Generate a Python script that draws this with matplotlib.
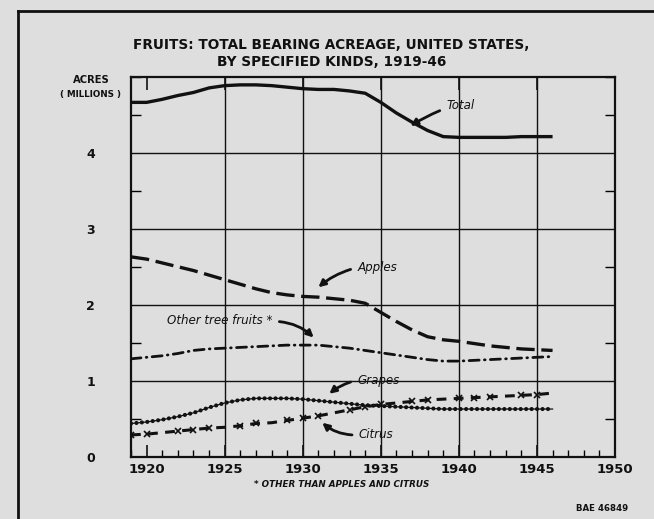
import matplotlib.pyplot as plt
from matplotlib.lines import Line2D
from matplotlib.ticker import MultipleLocator

years = list(range(1919, 1947))

total = [4.66, 4.66, 4.70, 4.75, 4.79, 4.85, 4.88, 4.89, 4.89, 4.88, 4.86, 4.84, 4.83, 4.83,
         4.81, 4.78, 4.66, 4.52, 4.40, 4.29, 4.21, 4.20, 4.20, 4.20, 4.20, 4.21, 4.21, 4.21]
apples = [2.63, 2.60, 2.55, 2.50, 2.45, 2.39, 2.33, 2.27, 2.21, 2.16, 2.13, 2.11, 2.10, 2.08,
          2.06, 2.02, 1.90, 1.78, 1.67, 1.58, 1.54, 1.52, 1.49, 1.46, 1.44, 1.42, 1.41, 1.40]
other_tree = [1.29, 1.31, 1.33, 1.36, 1.40, 1.42, 1.43, 1.44, 1.45, 1.46, 1.47, 1.47, 1.47, 1.45,
              1.43, 1.40, 1.37, 1.34, 1.31, 1.28, 1.26, 1.26, 1.27, 1.28, 1.29, 1.30, 1.31, 1.32]
grapes = [0.44, 0.46, 0.49, 0.53, 0.58, 0.65, 0.71, 0.75, 0.77, 0.77, 0.77, 0.76, 0.74, 0.72,
          0.70, 0.68, 0.67, 0.66, 0.65, 0.64, 0.63, 0.63, 0.63, 0.63, 0.63, 0.63, 0.63, 0.63]
citrus = [0.29, 0.30, 0.32, 0.34, 0.36, 0.38, 0.39, 0.41, 0.44, 0.45, 0.48, 0.51, 0.54, 0.58,
          0.62, 0.66, 0.69, 0.71, 0.73, 0.75, 0.76, 0.77, 0.78, 0.79, 0.80, 0.81, 0.82, 0.84]

x_labels = ['1920', '1925', '1930', '1935', '1940', '1945', '1950']
y_labels = ['0', '1', '2', '3', '4']

plt.rcParams['font.family'] = ['DejaVu Sans']
bg = '#dedede'
ink = '#111111'

fig = plt.figure(figsize=(6.54, 5.19), dpi=100, facecolor=bg)
ax = fig.add_axes([0.2003, 0.1195, 0.7401, 0.7331])
ax.set_facecolor(bg)

# gridlines
for yr in range(1925, 1950, 5):
    ax.axvline(yr, color=ink, lw=1.0, zorder=1)
for v in range(1, 5):
    ax.axhline(v, color=ink, lw=1.0, zorder=1)

# series
ax.plot(years, total, color=ink, lw=2.4, solid_capstyle='butt', zorder=3)
ax.plot(years, apples, color=ink, lw=2.4, dashes=(5.5, 2.0), zorder=3)
ax.plot(years, other_tree, color=ink, lw=2.0, dashes=(3.6, 1.9, 0.25, 1.9),
        dash_capstyle='round', zorder=3)
ax.plot(years, grapes, color=ink, lw=0.9, zorder=3)
ax.plot(years, grapes, color=ink, lw=3.0, dashes=(0.01, 1.3), dash_capstyle='round', zorder=3)
ax.plot(years, citrus, color=ink, lw=2.2, dashes=(3.2, 2.4), zorder=3)
ax.plot(years, citrus, color=ink, lw=0, marker='x', ms=4.5, mew=1.2, markevery=0.035, zorder=4)

ax.set_xlim(1919, 1950)
ax.set_ylim(0, 5)
ax.set_xticks(range(1920, 1951, 5))
ax.set_xticklabels(x_labels, fontsize=9.5, fontweight='bold')
ax.set_yticks(range(0, 5))
ax.set_yticklabels(y_labels, fontsize=9, fontweight='bold')
ax.xaxis.set_minor_locator(MultipleLocator(1))
ax.yaxis.set_minor_locator(MultipleLocator(0.5))
ax.tick_params(axis='x', which='major', direction='in', length=9, width=1.2, pad=4,
               top=True, colors=ink)
ax.tick_params(axis='x', which='minor', direction='in', length=5, width=1.0, top=False)
ax.tick_params(axis='y', which='major', direction='in', length=0, pad=26, colors=ink)
ax.tick_params(axis='y', which='minor', direction='in', length=7, width=1.0, right=True)
for s in ax.spines.values():
    s.set_linewidth(1.6)
    s.set_color(ink)

# labels on the lines
ann = dict(fontsize=8.6, style='italic', color=ink)
arrow = dict(arrowstyle='-|>', lw=2.0, color=ink, mutation_scale=10, shrinkA=3, shrinkB=0)
ax.annotate('Total', xy=(1936.9, 4.35), xytext=(1939.2, 4.62), va='center',
            arrowprops=dict(arrow, connectionstyle='arc3,rad=0.05', relpos=(0.0, 0.3)), **ann)
ax.annotate('Apples', xy=(1931.0, 2.23), xytext=(1933.5, 2.49), va='center',
            arrowprops=dict(arrow, connectionstyle='arc3,rad=0.12', relpos=(0.0, 0.5)), **ann)
ax.annotate('Other tree fruits *', xy=(1930.7, 1.57), xytext=(1921.3, 1.80), va='center',
            arrowprops=dict(arrow, connectionstyle='arc3,rad=-0.2', relpos=(1.0, 0.4)), **ann)
ax.annotate('Grapes', xy=(1931.7, 0.83), xytext=(1933.5, 1.01), va='center',
            arrowprops=dict(arrow, connectionstyle='arc3,rad=0.12', relpos=(0.0, 0.5)), **ann)
ax.annotate('Citrus', xy=(1931.25, 0.45), xytext=(1933.6, 0.29), va='center',
            arrowprops=dict(arrow, connectionstyle='arc3,rad=-0.2', relpos=(0.0, 0.5)), **ann)

fig.text(0.507, 0.913, 'FRUITS: TOTAL BEARING ACREAGE, UNITED STATES,', ha='center',
         va='center', fontsize=9.8, fontweight='bold', color=ink)
fig.text(0.507, 0.881, 'BY SPECIFIED KINDS, 1919-46', ha='center',
         va='center', fontsize=9.8, fontweight='bold', color=ink)
fig.text(0.139, 0.845, 'ACRES', ha='center', va='center', fontsize=7.2, fontweight='bold', color=ink)
fig.text(0.139, 0.818, '( MILLIONS )', ha='center', va='center', fontsize=6.3,
         fontweight='bold', color=ink)
fig.text(0.523, 0.066, '* OTHER THAN APPLES AND CITRUS', ha='center', va='center',
         fontsize=6.3, fontweight='bold', style='italic', color=ink)
fig.text(0.921, 0.021, 'BAE 46849', ha='center', va='center', fontsize=6.2,
         fontweight='bold', color=ink)

# frame lines of the page
fig.add_artist(Line2D([0.0275, 0.0275], [0.0, 0.979], color=ink, lw=2.0))
fig.add_artist(Line2D([0.0275, 1.0], [0.979, 0.979], color=ink, lw=2.0))

fig.savefig('out.png', dpi=100, facecolor=bg)
